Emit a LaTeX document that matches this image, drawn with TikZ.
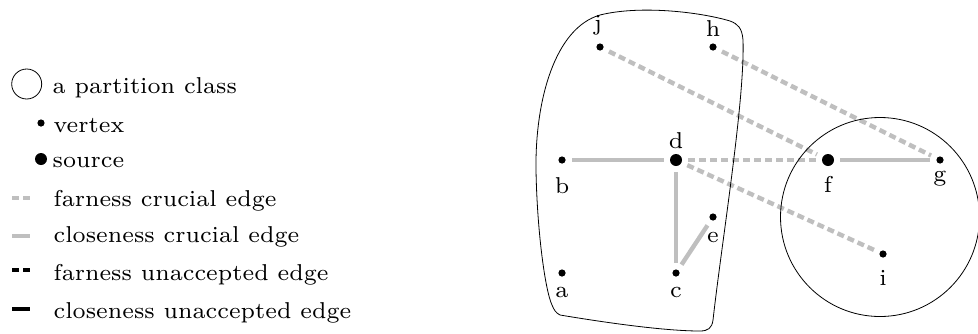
\documentclass[tikz,border=0pt]{standalone}
\usepackage{tikz}
\usetikzlibrary{positioning}
\definecolor{lgrey}{gray}{0.75}
\tikzset{
  lbl/.style={font=\fontsize{7}{8}\selectfont, scale=1.64, inner sep=0pt, anchor=base},
  vtx/.style={circle, fill=black, inner sep=0pt, minimum size=3.6pt},
  srcv/.style={circle, fill=black, inner sep=0pt, minimum size=6pt},
  clo/.style={lgrey, line width=2.2pt, shorten <=3pt, shorten >=3pt},
  far/.style={clo, dash pattern=on 3.5pt off 2pt},
  cloblk/.style={clo, black},
  farblk/.style={far, black},
}
\begin{document}
\begin{tikzpicture}[x=0.5pt, y=-0.5pt]
\useasboundingbox (0,0) rectangle (978,333);
% legend
\draw (26.7,84) circle (15);
\node[lbl, anchor=base west] (lpart) at (52,93) {a partition class};
\node[vtx] (lv) at (41,123) {};
\node[lbl, anchor=base west] (lvtx) at (53,132) {vertex};
\node[srcv] (ls) at (41,159) {};
\node[lbl, anchor=base west] (lsrc) at (52,167) {source};
\foreach \y/\b/\st/\lab [count=\i] in {198/206/far/farness crucial edge,
    236/242/clo/closeness crucial edge, 270/280/farblk/farness unaccepted edge,
    309/318/cloblk/closeness unaccepted edge} {
  \coordinate (l\i a) at (12,\y);
  \coordinate (l\i b) at (30,\y);
  \draw[\st, shorten <=0pt, shorten >=0pt] (l\i a) -- (l\i b);
  \node[lbl, anchor=base west] (l\i t) at (53,\b) {\lab};
}
% vertices
\node[vtx] (j) at (600,47) {};
\node[vtx] (h) at (713,47) {};
\node[vtx] (b) at (562,160) {};
\node[srcv] (d) at (676,160) {};
\node[vtx] (e) at (713,217) {};
\node[vtx] (a) at (562,273) {};
\node[vtx] (c) at (676,273) {};
\node[srcv] (f) at (828,160) {};
\node[vtx] (g) at (940,160) {};
\node[vtx] (i) at (883,254) {};
\foreach \n/\x/\y in {j/598/30, h/713/36, d/676/148, b/562/193, e/713/242,
    a/562/297, c/676/297, f/828/192, g/940/181, i/883/285}
  \node[lbl] (\n l) at (\x,\y) {\n};
% edges
\draw[clo] (b) -- (d);
\draw[clo] (d) -- (c);
\draw[clo] (c) -- (e);
\draw[clo] (f) -- (g);
\draw[far] (j) -- (f);
\draw[far] (h) -- (g);
\draw[far] (d) -- (f);
\draw[far] (d) -- (i);
% partition classes
\draw (560,315) .. controls (620,325) and (670,331) .. (700,331)
  .. controls (708,331) and (712,328) .. (713,320)
  .. controls (722,240) and (745,100) .. (743,40)
  .. controls (742,28) and (738,24) .. (730,21)
  .. controls (700,12) and (640,5) .. (600,15)
  .. controls (555,28) and (535,100) .. (536,170)
  .. controls (537,230) and (545,290) .. (552,305)
  .. controls (554,310) and (556,313) .. (560,315) -- cycle;
\draw (880,217) circle (99.5);
\end{tikzpicture}
\end{document}
